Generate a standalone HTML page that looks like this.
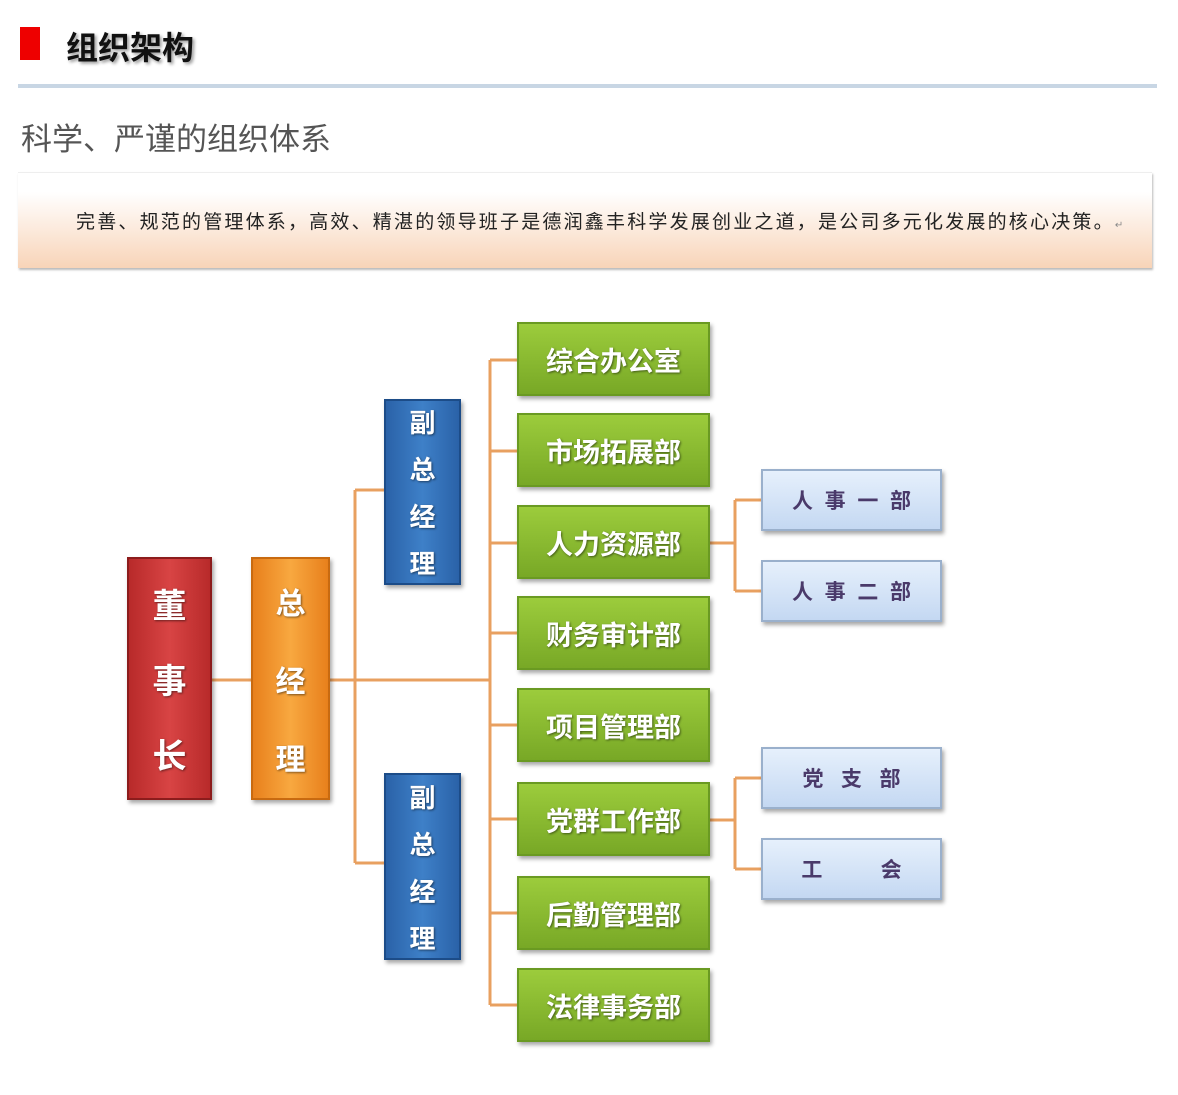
<!DOCTYPE html>
<html><head><meta charset="utf-8"><style>
body{margin:0;width:1178px;height:1095px;background:#fff;position:relative;overflow:hidden;font-family:"Liberation Sans","Noto Sans CJK SC",sans-serif}
.a{position:absolute}
.box{position:absolute;display:flex;align-items:center;justify-content:center;font-weight:bold;box-sizing:border-box;box-shadow:2px 3px 4px rgba(0,0,0,.35)}
.g{left:517px;width:193px;height:74px;background:linear-gradient(#9ccc3c,#78a826);border:2px solid #6a9a22;color:#fff;font-size:27px;text-shadow:1px 1px 2px rgba(0,0,0,.5)}
.v{flex-direction:column;color:#fff;text-shadow:1px 1px 2px rgba(0,0,0,.5)}
.lb{left:761px;width:181px;height:62px;background:linear-gradient(#e6f0fc,#c4d8f2);border:2px solid #9ab0cc;color:#4a3a6a;font-size:21px;white-space:pre}
</style></head><body>
<div class="a" style="left:20px;top:27px;width:20px;height:33px;background:#e00"></div>
<div class="a" style="left:66px;top:23px;font-size:32px;font-weight:bold;color:#111;text-shadow:2px 2px 3px rgba(0,0,0,.4)">组织架构</div>
<div class="a" style="left:18px;top:84px;width:1139px;height:4px;background:#c8d6e4"></div>
<div class="a" style="left:21px;top:114px;font-size:31px;color:#555">科学、严谨的组织体系</div>
<div class="a" style="left:18px;top:172px;width:1134px;height:95px;background:linear-gradient(#fff 20%,#f8d4b8);border-top:1px solid #eee;box-shadow:1px 2px 2px #bbb"></div>
<div class="a" style="left:76px;top:207px;font-size:19px;letter-spacing:2.2px;color:#222;white-space:nowrap">完善、规范的管理体系，高效、精湛的领导班子是德润鑫丰科学发展创业之道，是公司多元化发展的核心决策。<span style="font-size:10px;color:#888">↵</span></div>
<svg class="a" style="left:0;top:0" width="1178" height="1095"><g stroke="#e8a060" stroke-width="3" fill="none">
<path d="M212 680H251M330 680H490M355 490V863M355 490H384M355 863H384M490 360V1005"/>
<path d="M490 360H517M490 451H517M490 543H517M490 633H517M490 725H517M490 819H517M490 913H517M490 1005H517"/>
<path d="M710 543H735M735 500V591M735 500H761M735 591H761M710 820H735M735 778V869M735 778H761M735 869H761"/>
</g></svg>
<div class="box v" style="left:127px;top:557px;width:85px;height:243px;background:linear-gradient(90deg,#b82a2a,#d84444,#b82a2a);border:2px solid #8c1c1c;font-size:34px;gap:26px"><span>董</span><span>事</span><span>长</span></div>
<div class="box v" style="left:251px;top:557px;width:79px;height:243px;background:linear-gradient(90deg,#e8801c,#f8a840,#e8801c);border:2px solid #c86a10;font-size:30px;gap:34px"><span>总</span><span>经</span><span>理</span></div>
<div class="box v" style="left:384px;top:399px;width:77px;height:186px;background:linear-gradient(90deg,#2a62a8,#3e80c8,#2a62a8);border:2px solid #1c4c88;font-size:26px;gap:10px"><span>副</span><span>总</span><span>经</span><span>理</span></div>
<div class="box v" style="left:384px;top:773px;width:77px;height:187px;background:linear-gradient(90deg,#2a62a8,#3e80c8,#2a62a8);border:2px solid #1c4c88;font-size:26px;gap:10px"><span>副</span><span>总</span><span>经</span><span>理</span></div>
<div class="box g" style="top:322px">综合办公室</div>
<div class="box g" style="top:413px">市场拓展部</div>
<div class="box g" style="top:505px">人力资源部</div>
<div class="box g" style="top:596px">财务审计部</div>
<div class="box g" style="top:688px">项目管理部</div>
<div class="box g" style="top:782px">党群工作部</div>
<div class="box g" style="top:876px">后勤管理部</div>
<div class="box g" style="top:968px">法律事务部</div>
<div class="box lb" style="top:469px">人  事  一  部</div>
<div class="box lb" style="top:560px">人  事  二  部</div>
<div class="box lb" style="top:747px">党   支   部</div>
<div class="box lb" style="top:838px">工          会</div>
</body></html>
